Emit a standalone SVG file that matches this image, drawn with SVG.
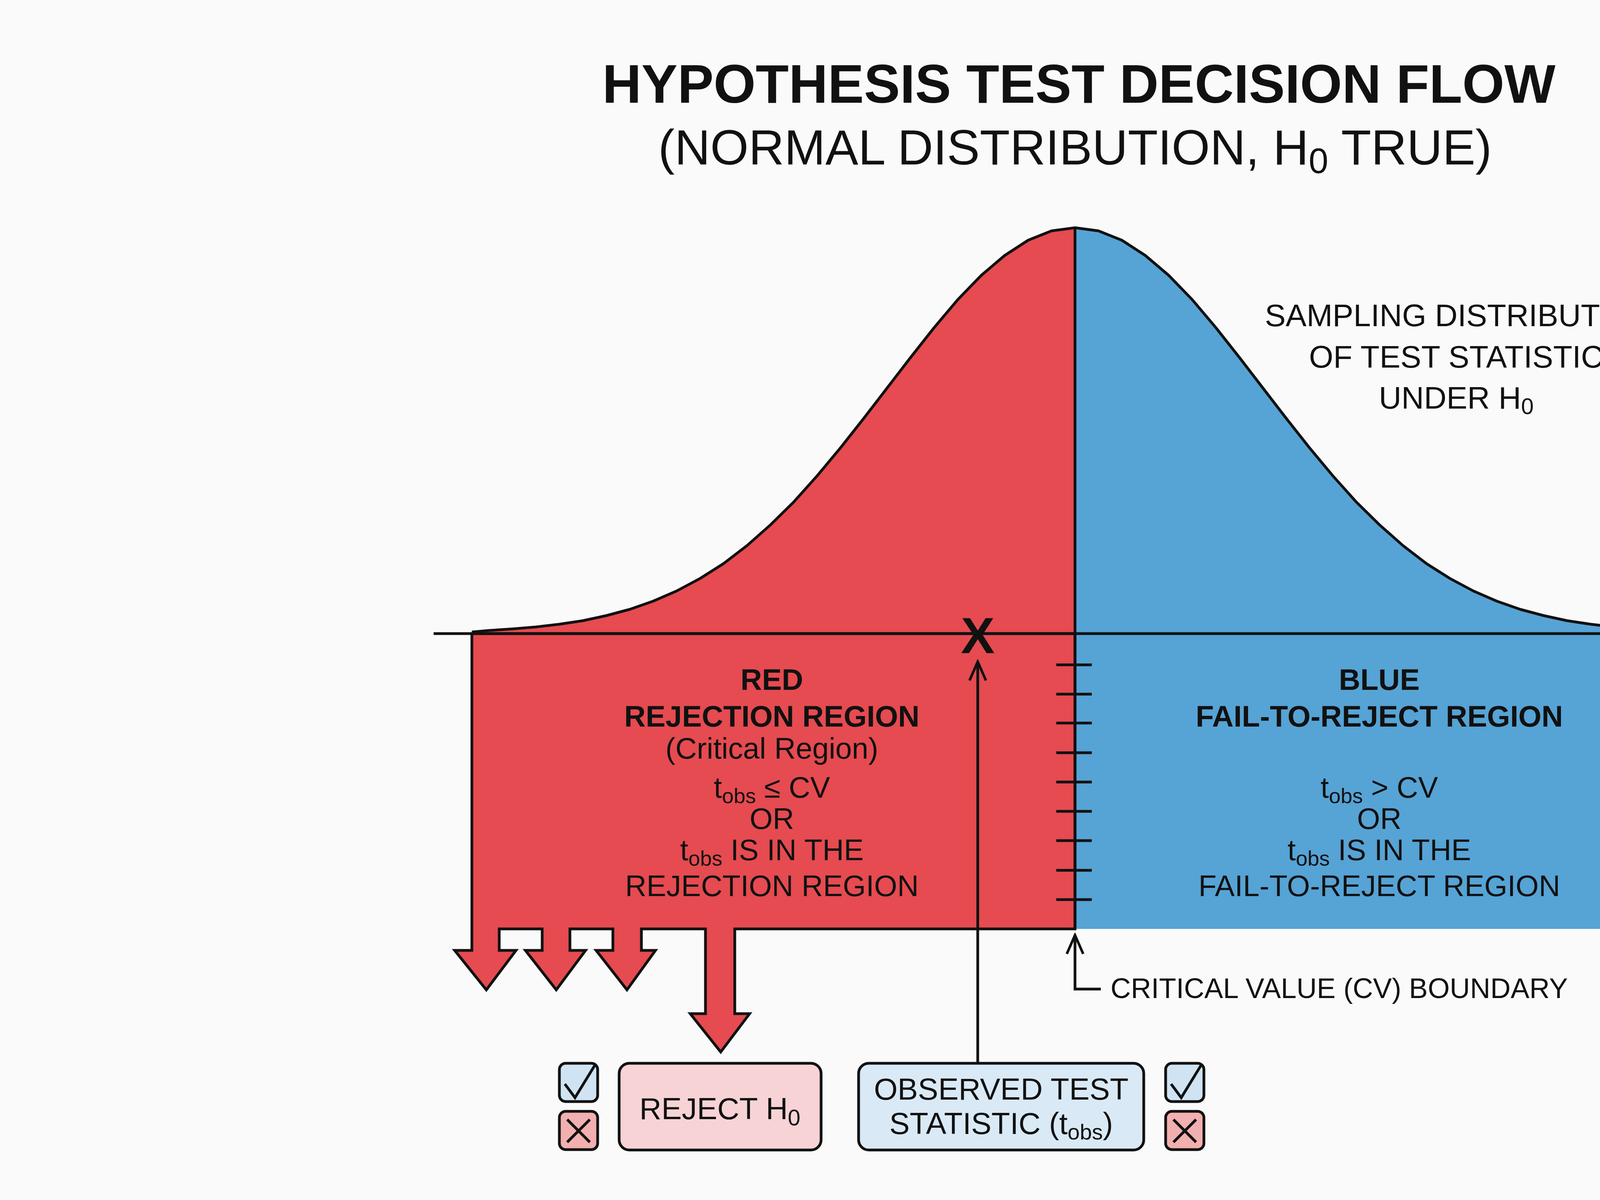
<svg xmlns="http://www.w3.org/2000/svg" width="5504" height="3072" viewBox="0 0 5504 3072">
<style>
text{font-family:"Liberation Sans",Arial,sans-serif;fill:#111;text-anchor:middle}
.b{font-weight:bold}
.ln{stroke:#111;fill:none;stroke-width:7}
.lbl{font-size:76px}
.sub{font-size:54px}
</style>
<defs>
<marker id="open" viewBox="0 0 20 20" refX="18" refY="10" markerWidth="60" markerHeight="60" markerUnits="userSpaceOnUse" orient="auto">
<path d="M2,3 L18,10 L2,17" fill="none" stroke="#111" stroke-width="2.2"/>
</marker>
</defs>
<rect width="5504" height="3072" fill="#fafafa"/>
<text class="b" x="2762" y="263" font-size="140" textLength="2440" lengthAdjust="spacingAndGlyphs">HYPOTHESIS TEST DECISION FLOW</text>
<text x="2752" y="421" font-size="126" textLength="2134" lengthAdjust="spacingAndGlyphs">(NORMAL DISTRIBUTION, H<tspan font-size="90" dy="22">0</tspan><tspan dy="-22"> TRUE)</tspan></text>
<g id="distribution">
<path d="M1208,1622 L1208,1618 L1252,1614 L1312,1610 L1372,1605 L1432,1598 L1492,1589 L1552,1576 L1612,1560 L1672,1539 L1732,1513 L1792,1481 L1852,1443 L1912,1397 L1972,1344 L2032,1285 L2092,1218 L2152,1146 L2212,1070 L2272,992 L2332,914 L2392,838 L2452,767 L2512,705 L2572,654 L2632,615 L2692,591 L2752,583 L2752,1622 Z" fill="#E54B50"/>
<path d="M4296,1622 L4296,1618 L4252,1614 L4192,1610 L4132,1605 L4072,1598 L4012,1589 L3952,1576 L3892,1560 L3832,1539 L3772,1513 L3712,1481 L3652,1443 L3592,1397 L3532,1344 L3472,1285 L3412,1218 L3352,1146 L3292,1070 L3232,992 L3172,914 L3112,838 L3052,767 L2992,705 L2932,654 L2872,615 L2812,591 L2752,583 L2752,1622 Z" fill="#56A3D5"/>
<rect x="2752" y="1622" width="1544" height="756" fill="#56A3D5"/>
<path d="M1208,1618 L1252,1614 L1312,1610 L1372,1605 L1432,1598 L1492,1589 L1552,1576 L1612,1560 L1672,1539 L1732,1513 L1792,1481 L1852,1443 L1912,1397 L1972,1344 L2032,1285 L2092,1218 L2152,1146 L2212,1070 L2272,992 L2332,914 L2392,838 L2452,767 L2512,705 L2572,654 L2632,615 L2692,591 L2752,583 L2812,591 L2872,615 L2932,654 L2992,705 L3052,767 L3112,838 L3172,914 L3232,992 L3292,1070 L3352,1146 L3412,1218 L3472,1285 L3532,1344 L3592,1397 L3652,1443 L3712,1481 L3772,1513 L3832,1539 L3892,1560 L3952,1576 L4012,1589 L4072,1598 L4132,1605 L4192,1610 L4252,1614 L4296,1618" class="ln" stroke-width="9" stroke-linejoin="round"/>
<text x="3738" y="835" font-size="80">SAMPLING DISTRIBUTION</text>
<text x="3728" y="941" font-size="80">OF TEST STATISTIC</text>
<text x="3728" y="1046" font-size="80">UNDER H<tspan font-size="58" dy="14">0</tspan></text>
</g>
<g id="red-region">
<path d="M1208,1622 L1208,2433 L1164,2433 L1245,2534 L1321,2433 L1278,2433 L1278,2378 L1388,2378 L1388,2433 L1345,2433 L1424,2534 L1499,2433 L1459,2433 L1459,2378 L1569,2378 L1569,2433 L1526,2433 L1605,2534 L1678,2433 L1642,2433 L1642,2378 L1806,2378 L1806,2595 L1767,2595 L1845,2693 L1919,2595 L1881,2595 L1881,2378 L2752,2378 L2752,1622 Z" fill="#E54B50" stroke="#111" stroke-width="7" stroke-linejoin="miter"/>
<text class="b lbl" x="1976" y="1766">RED</text>
<text class="b lbl" x="1976" y="1860">REJECTION REGION</text>
<text class="lbl" x="1976" y="1942">(Critical Region)</text>
<text class="lbl" x="1976" y="2042">t<tspan class="sub" dy="14">obs</tspan><tspan dy="-14"> ≤ CV</tspan></text>
<text class="lbl" x="1976" y="2122">OR</text>
<text class="lbl" x="1976" y="2202">t<tspan class="sub" dy="14">obs</tspan><tspan dy="-14"> IS IN THE</tspan></text>
<text class="lbl" x="1976" y="2294">REJECTION REGION</text>
</g>
<g id="blue-region">
<text class="b lbl" x="3531" y="1766">BLUE</text>
<text class="b lbl" x="3531" y="1860">FAIL-TO-REJECT REGION</text>
<text class="lbl" x="3531" y="2042">t<tspan class="sub" dy="14">obs</tspan><tspan dy="-14"> &gt; CV</tspan></text>
<text class="lbl" x="3531" y="2122">OR</text>
<text class="lbl" x="3531" y="2202">t<tspan class="sub" dy="14">obs</tspan><tspan dy="-14"> IS IN THE</tspan></text>
<text class="lbl" x="3531" y="2294">FAIL-TO-REJECT REGION</text>
</g>
<g id="connectors">
<line x1="1110" y1="1622" x2="4385" y2="1622" class="ln" stroke-width="6" marker-end="url(#open)"/>
<line x1="2752" y1="583" x2="2752" y2="2378" class="ln" stroke-width="6"/>
<path d="M2704,1702H2795M2704,1777H2795M2704,1851H2795M2704,1927H2795M2704,2002H2795M2704,2077H2795M2704,2152H2795M2704,2228H2795M2704,2303H2795" class="ln" stroke-width="8"/>
<line x1="2503" y1="2728" x2="2503" y2="1694" class="ln" stroke-width="6" marker-end="url(#open)"/>
<path d="M2818,2532 L2752,2532 L2752,2394" class="ln" stroke-width="6" marker-end="url(#open)"/>
</g>
<text class="b" x="2503" y="1672" font-size="130">X</text>
<text x="2843" y="2555" font-size="72" style="text-anchor:start">CRITICAL VALUE (CV) BOUNDARY</text>
<g id="reject-box">
<rect x="1585" y="2722" width="517" height="222" rx="26" fill="#F7D3D5" stroke="#111" stroke-width="7"/>
<text x="1843" y="2865" font-size="78">REJECT H<tspan font-size="58" dy="16">0</tspan></text>
</g>
<g id="observed-box">
<rect x="2198" y="2722" width="730" height="222" rx="26" fill="#D9E9F6" stroke="#111" stroke-width="7"/>
<text x="2563" y="2815" font-size="78">OBSERVED TEST</text>
<text x="2563" y="2903" font-size="78">STATISTIC (t<tspan font-size="56" dy="14">obs</tspan><tspan dy="-14">)</tspan></text>
</g>
<g id="checkboxes">
<rect x="1432" y="2722" width="98" height="98" rx="16" fill="#CFE3F3" stroke="#111" stroke-width="7"/>
<path d="M1446,2775 L1472,2810 L1524,2725" class="ln" stroke-width="6"/>
<rect x="1432" y="2845" width="98" height="98" rx="16" fill="#F2AFAF" stroke="#111" stroke-width="7"/>
<path d="M1452,2866 L1510,2924 M1510,2866 L1452,2924" class="ln" stroke-width="6"/>
<rect x="2984" y="2722" width="98" height="98" rx="16" fill="#CFE3F3" stroke="#111" stroke-width="7"/>
<path d="M2998,2775 L3024,2810 L3076,2725" class="ln" stroke-width="6"/>
<rect x="2984" y="2845" width="98" height="98" rx="16" fill="#F2AFAF" stroke="#111" stroke-width="7"/>
<path d="M3004,2866 L3062,2924 M3062,2866 L3004,2924" class="ln" stroke-width="6"/>
</g>
</svg>
